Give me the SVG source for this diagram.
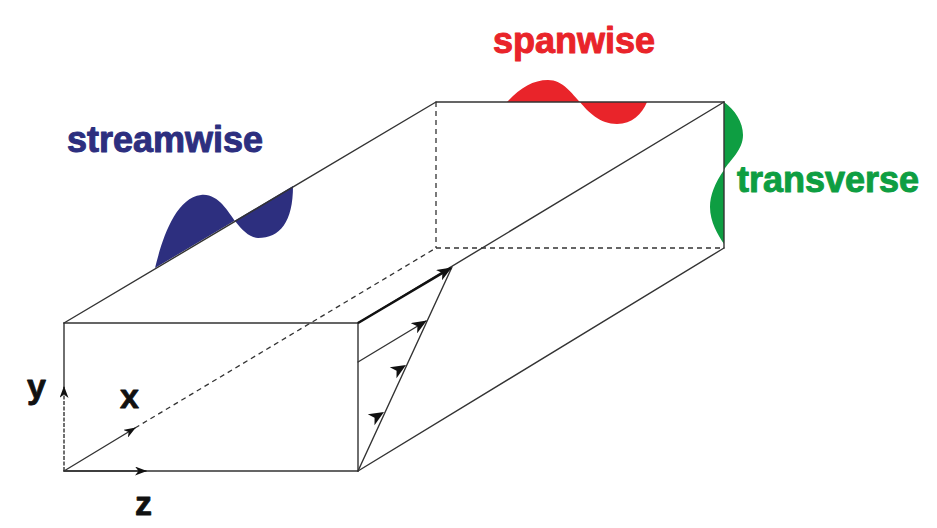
<svg xmlns="http://www.w3.org/2000/svg" xmlns:xlink="http://www.w3.org/1999/xlink" width="937" height="528" viewBox="0 0 937 528">
<style>
.e{fill:none;stroke:#333;stroke-width:1.4;stroke-linecap:round}
.d{fill:none;stroke:#333;stroke-width:1.3;stroke-dasharray:5,4}
.lab{font-family:"Liberation Sans",Arial,sans-serif;font-weight:bold;font-size:36px;stroke-width:1;stroke-linejoin:round}
.ax{font-family:"Liberation Sans",Arial,sans-serif;font-weight:bold;font-size:34px;fill:#111;stroke:#111;stroke-width:0.8;stroke-linejoin:round}
</style>
<defs>
<marker id="arr" viewBox="0 0 15 12" refX="14" refY="6" markerWidth="15" markerHeight="12" markerUnits="userSpaceOnUse" orient="auto">
<path d="M0,0 L15,6 L0,12 L4,6 Z" fill="#111"/>
</marker>
<marker id="arrs" viewBox="0 0 12 9" refX="11" refY="4.5" markerWidth="12" markerHeight="9" markerUnits="userSpaceOnUse" orient="auto">
<path d="M0,0 L12,4.5 L0,9 L3.5,4.5 Z" fill="#111"/>
</marker>
<path id="ah" d="M0,0 L-15,-6.5 L-11,0 L-15,6.5 Z" fill="#111"/>
</defs>
<rect width="937" height="528" fill="#fff"/>

<g id="waves">
<path id="wave-streamwise" d="M155,268 C162,240 175,198 201,195 C218,193 228,212 235,221 C242,230 250,238 258,238 C280,238 293,222 293,186 Z" fill="#2d2f7f"/>
<path id="wave-spanwise" d="M507,102 C520,88 533,80 548,80 C563,80 572,94 580,102 C588,112 600,124 617,124 C632,124 642,114 647,102 Z" fill="#e9242a"/>
<path id="wave-transverse" d="M724,102 C735,110 743,122 743,135 C743,150 730,160 724,170 C715,183 710,195 710,207 C710,222 718,235 724,244 Z" fill="#0e9e42"/>
</g>

<g id="connectors">
<line class="d" x1="135" y1="428" x2="436" y2="248"/>
<line class="d" x1="436" y1="102" x2="436" y2="248"/>
<line class="d" x1="436" y1="248" x2="724" y2="248"/>
<line class="e" x1="64" y1="323" x2="358" y2="323"/>
<line class="e" x1="358" y1="323" x2="358" y2="471"/>
<line class="e" x1="64" y1="471" x2="358" y2="471"/>
<line class="e" x1="64" y1="323" x2="64" y2="388"/>
<line class="e" x1="64" y1="323" x2="436" y2="102"/>
<line class="e" x1="358" y1="323" x2="724" y2="102"/>
<line class="e" x1="358" y1="471" x2="724" y2="248"/>
<line class="e" x1="436" y1="102" x2="724" y2="102" stroke="#555" stroke-width="1.8"/>
<line class="e" x1="724" y1="102" x2="724" y2="248"/>
<line class="e" x1="358" y1="471" x2="452" y2="267"/>
<line x1="358" y1="323" x2="451" y2="268" stroke="#111" stroke-width="2.6" marker-end="url(#arr)"/>
<line class="e" x1="358" y1="362" x2="426" y2="321" marker-end="url(#arr)"/>
<use xlink:href="#ah" transform="translate(406,365) rotate(-31)"/>
<use xlink:href="#ah" transform="translate(384,412) rotate(-31)"/>
<line x1="64" y1="471" x2="64" y2="387" stroke="#333" stroke-width="1.4" stroke-dasharray="4,1.5" marker-end="url(#arrs)"/>
<line class="e" x1="64" y1="471" x2="135" y2="428" marker-end="url(#arrs)"/>
<line class="e" x1="64" y1="471" x2="146" y2="471" marker-end="url(#arrs)"/>
</g>

<g id="labels">
<text id="t-streamwise" class="lab" x="67" y="152" fill="#2d2f7f" stroke="#2d2f7f">streamwise</text>
<text id="t-spanwise" class="lab" x="493" y="53" fill="#e9242a" stroke="#e9242a">spanwise</text>
<text id="t-transverse" class="lab" x="737" y="192" fill="#0e9e42" stroke="#0e9e42">transverse</text>
<text id="t-y" class="ax" x="27" y="398">y</text>
<text id="t-x" class="ax" x="120" y="408">x</text>
<text id="t-z" class="ax" x="135" y="515">z</text>
</g>
</svg>
